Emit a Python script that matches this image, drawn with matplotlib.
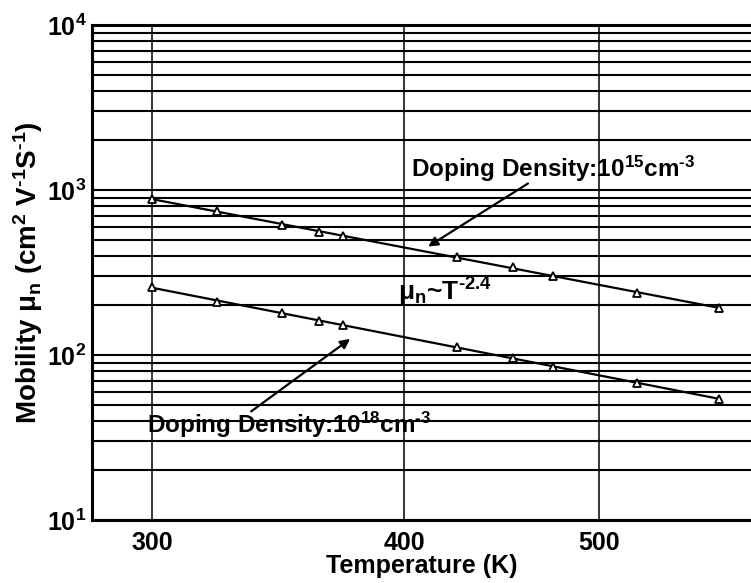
import numpy as np
import matplotlib
matplotlib.use("Agg")
import matplotlib.pyplot as plt

# Mobility vs temperature for two doping densities
temp_k = [300, 323, 348, 363, 373, 425, 453, 474, 522, 573]
mu_1e15 = [882, 746, 614, 556, 526, 393, 341, 301, 238, 193]
mu_1e18 = [258, 210, 180, 161, 152, 112, 96, 85, 68, 54]

x_ticks = [300, 400, 500]
x_tick_labels = ["300", "400", "500"]
y_ticks = [10, 100, 1000, 10000]
y_tick_labels = ["$10^{1}$", "$10^{2}$", "$10^{3}$", "$10^{4}$"]

plt.rcParams["font.family"] = ["Liberation Sans", "DejaVu Sans"]
plt.rcParams["font.weight"] = "bold"
plt.rcParams["mathtext.fontset"] = "custom"
plt.rcParams["mathtext.rm"] = "Liberation Sans:bold"
plt.rcParams["mathtext.it"] = "Liberation Sans:bold"
plt.rcParams["mathtext.bf"] = "Liberation Sans:bold"
plt.rcParams["mathtext.default"] = "rm"

fig = plt.figure(figsize=(7.51, 5.83), dpi=100)
ax = fig.add_axes([92 / 751, 63 / 583, 1 - 92 / 751, 495 / 583])

ax.set_xscale("log")
ax.set_yscale("log")
ax.set_xlim(280, 594.5)
ax.set_ylim(10, 10000)

# power-law fit lines through each series
for mu in (mu_1e15, mu_1e18):
    z = np.polyfit(np.log10(temp_k), np.log10(mu), 1)
    tt = np.array([temp_k[0], temp_k[-1]])
    ax.plot(tt, 10 ** np.polyval(z, np.log10(tt)), color="black", lw=1.6, zorder=3)
    ax.plot(temp_k, mu, linestyle="none", marker="^", markersize=6,
            markerfacecolor="white", markeredgecolor="black", markeredgewidth=1.3, zorder=4)

# grid: horizontal at every decade subdivision, vertical only at major x ticks
ax.set_xticks(x_ticks)
ax.set_xticklabels(x_tick_labels)
ax.set_xticks([], minor=True)
ax.set_yticks(y_ticks)
ax.set_yticklabels(y_tick_labels)
ax.yaxis.grid(True, which="both", color="black", lw=1.5)
ax.xaxis.grid(True, which="major", color="black", lw=1.1)
ax.tick_params(axis="both", which="both", length=0, labelsize=18)
ax.tick_params(axis="x", pad=8)
ax.tick_params(axis="y", pad=4)
for lab in ax.get_xticklabels() + ax.get_yticklabels():
    lab.set_fontweight("bold")

for side in ("left", "bottom", "top"):
    ax.spines[side].set_linewidth(2.2)
ax.spines["right"].set_visible(False)

ax.set_xlabel("Temperature (K)", fontsize=18, fontweight="bold", labelpad=-1)
ax.set_ylabel(r"Mobility $\mu_n$ (cm$^2$ V$^{\text{-1}}$S$^{\text{-1}}$)", fontsize=20,
              fontweight="bold")
ax.yaxis.set_label_coords(-0.072, 0.5)

arrow = dict(arrowstyle="-|>", color="black", lw=1.6, mutation_scale=14)
ax.text(403, 1200, r"Doping Density:10$^{15}$cm$^{\text{-3}}$",
        fontsize=17.5, fontweight="bold", va="baseline", ha="left", zorder=5)
ax.annotate("", xy=(410, 445), xytext=(462, 1118), arrowprops=arrow, zorder=5)

ax.text(298, 33.6, r"Doping Density:10$^{18}$cm$^{\text{-3}}$",
        fontsize=17.5, fontweight="bold", va="baseline", ha="left", zorder=5)
ax.annotate("", xy=(377, 128), xytext=(335, 44.5), arrowprops=arrow, zorder=5)

ax.text(397, 215, r"$\mu_n$~T$^{\text{-2.4}}$", fontsize=19, fontweight="bold",
        va="baseline", ha="left", zorder=5)

fig.savefig("out.png", dpi=100)
